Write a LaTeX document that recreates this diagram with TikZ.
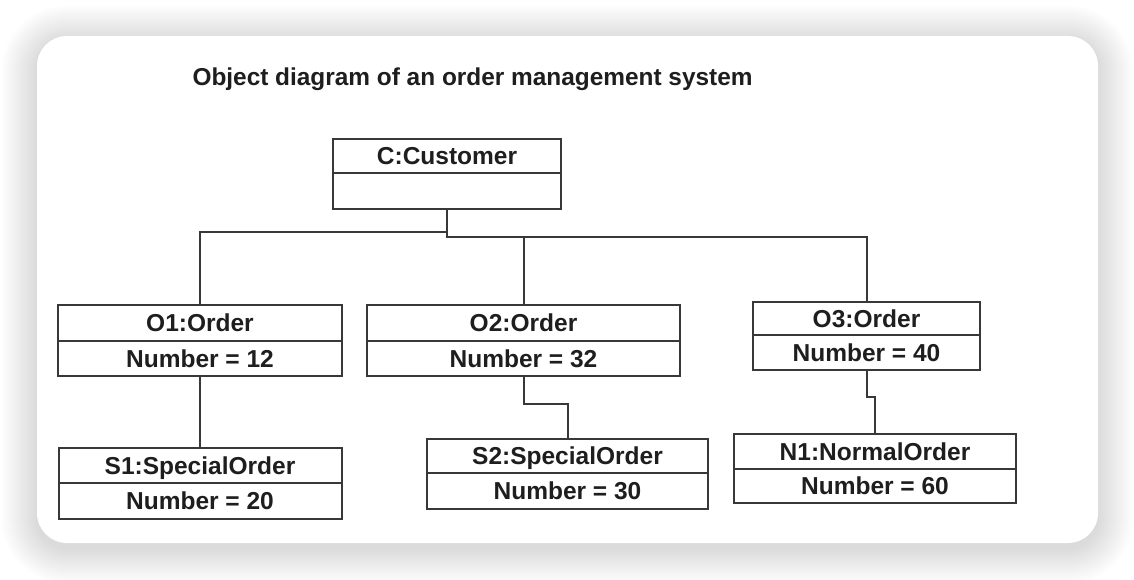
\documentclass[tikz,border=0pt]{standalone}
\usepackage{fontspec}
\setmainfont{Liberation Sans}
\usepackage{tikz}
\usetikzlibrary{positioning}
\definecolor{boxline}{HTML}{383838}
\definecolor{boxtext}{HTML}{1E1E1E}

\begin{document}
\begin{tikzpicture}[x=1pt, y=-1pt,
  objpart/.style={draw=boxline, line width=2pt, fill=white, inner sep=0pt,
    text=boxtext, text height=17.5pt, text depth=0pt,
    font=\bfseries\fontsize{24.5}{24.5}\selectfont},
  link/.style={draw=boxline, line width=2pt}]

  \useasboundingbox[fill=white] (0,0) rectangle (1134,580);
  \foreach \r [evaluate=\r as \rad using 30+\r] in {36,35,...,1}
    \fill[black, opacity=0.0045, rounded corners=\rad pt] (37-\r,36-\r+5) rectangle (1098+\r,543+\r+5);
  \fill[white, rounded corners=30pt] (37,36) rectangle (1098,543);

  \node[anchor=base west, text=boxtext, font=\bfseries\fontsize{24.4}{24.4}\selectfont] (title) at (189,86) {Object diagram of an order management system};

  \node[objpart, minimum width=228, minimum height=34] (cN) at (447,156) {C:Customer};
  \node[objpart, minimum width=228, minimum height=36] (cA) at (447,191) {};

  \node[objpart, minimum width=284, minimum height=36] (o1N) at (200,323) {O1:Order};
  \node[objpart, minimum width=284, minimum height=35] (o1A) at (200,358.5) {Number = 12};
  \node[objpart, minimum width=313, minimum height=36] (o2N) at (523.5,323) {O2:Order};
  \node[objpart, minimum width=313, minimum height=35] (o2A) at (523.5,358.5) {Number = 32};
  \node[objpart, minimum width=227, minimum height=33] (o3N) at (866.5,318.5) {O3:Order};
  \node[objpart, minimum width=227, minimum height=35] (o3A) at (866.5,352.5) {Number = 40};

  \node[objpart, minimum width=283, minimum height=35] (s1N) at (200,465.5) {S1:SpecialOrder};
  \node[objpart, minimum width=283, minimum height=36] (s1A) at (200,501) {Number = 20};
  \node[objpart, minimum width=281, minimum height=34] (s2N) at (567.5,456) {S2:SpecialOrder};
  \node[objpart, minimum width=281, minimum height=36] (s2A) at (567.5,491) {Number = 30};
  \node[objpart, minimum width=282, minimum height=35] (n1N) at (875,451.5) {N1:NormalOrder};
  \node[objpart, minimum width=282, minimum height=34] (n1A) at (875,486) {Number = 60};

  \coordinate (jL) at (447,232);
  \coordinate (jR) at (447,237);
  \coordinate (b2) at (523.5,404);
  \coordinate (b3) at (866.5,397);

  \draw[link] (cA.south) -- (jR) -- (o3N.north |- jR) -- (o3N.north);
  \draw[link] (jL) -| (o1N.north);
  \draw[link] (o2N.north |- jR) -- (o2N.north);
  \draw[link] (o1A.south) -- (s1N.north);
  \draw[link] (o2A.south) -- (b2) -| (s2N.north);
  \draw[link] (o3A.south) -- (b3) -| (n1N.north);

\end{tikzpicture}
\end{document}
